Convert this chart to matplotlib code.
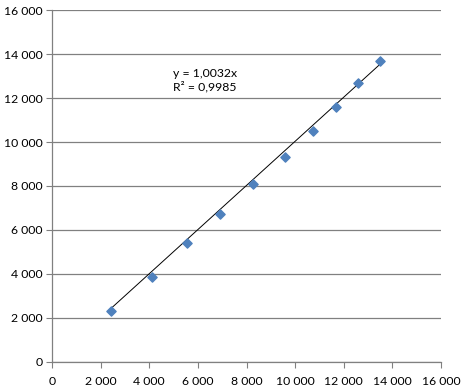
import matplotlib
matplotlib.use('Agg')
import matplotlib.pyplot as plt
from matplotlib.ticker import FuncFormatter

# data
x_vals = [2420, 4120, 5560, 6920, 8250, 9580, 10750, 11680, 12600, 13490]
y_vals = [2300, 3880, 5400, 6740, 8080, 9320, 10490, 11580, 12670, 13670]
slope = 1.0032
r2 = 0.9985
ticks = [0, 2000, 4000, 6000, 8000, 10000, 12000, 14000, 16000]

plt.rcParams['font.family'] = ['Lato', 'DejaVu Sans']

fig = plt.figure(figsize=(4.69, 3.91), dpi=100)
ax = fig.add_axes([0.1109, 0.0742, 0.8294, 0.9002])

grey = '#808080'

# trendline through origin
tx = [min(x_vals), max(x_vals)]
ty = [slope * v for v in tx]
ax.plot(tx, ty, color='black', linewidth=0.7, zorder=2)
ax.scatter(x_vals, y_vals, marker='D', s=22, color='#4F81BD', edgecolors='#4F81BD', zorder=3)

ax.set_xlim(0, 16000)
ax.set_ylim(0, 16000)
ax.set_xticks(ticks)
ax.set_yticks(ticks)
fmt = FuncFormatter(lambda v, p: '{:,}'.format(int(v)).replace(',', ' '))
ax.xaxis.set_major_formatter(fmt)
ax.yaxis.set_major_formatter(fmt)

ax.grid(axis='y', color=grey, linewidth=0.9)
ax.set_axisbelow(True)
for s in ['top', 'right']:
    ax.spines[s].set_visible(False)
for s in ['left', 'bottom']:
    ax.spines[s].set_color(grey)
    ax.spines[s].set_linewidth(0.9)
ax.tick_params(direction='out', length=4, color=grey, labelsize=8.8, pad=3)
ax.tick_params(axis='x', pad=6)

eq = 'y = ' + '{:.4f}'.format(slope).replace('.', ',') + 'x\nR² = ' + '{:.4f}'.format(r2).replace('.', ',')
ax.text(6300, 12800, eq, fontsize=8.8, ha='center', va='center', linespacing=1.25)

fig.savefig('out.png', dpi=100)
